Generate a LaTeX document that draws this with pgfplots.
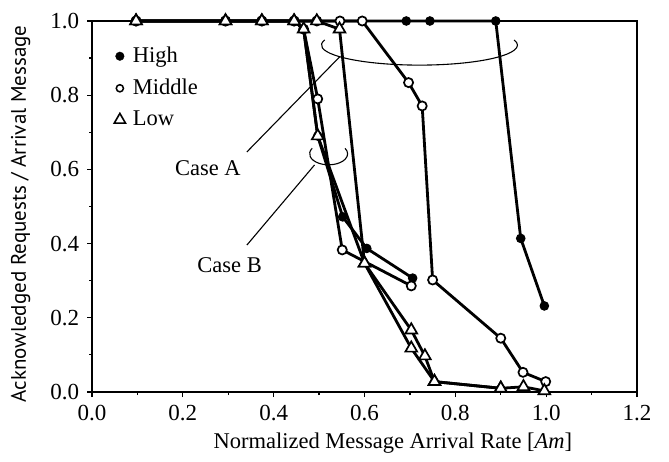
\documentclass[border=0pt]{standalone}
\usepackage{fontspec}
\setmainfont{Liberation Serif}
\newfontfamily\ylabfont{PT Sans}
\usepackage{pgfplots}
\pgfplotsset{compat=1.18}

% one style per class; Case A and Case B share them
\pgfplotsset{
 hi/.style={black,line width=2.8bp,mark=*,mark size=4.3pt,mark options={fill=black,line width=1bp}},
 mid/.style={black,line width=2.8bp,mark=*,mark size=4.6pt,mark options={fill=white,line width=1.7bp}},
 lo/.style={black,line width=2.8bp,mark=triangle*,mark size=6.8pt,mark options={fill=white,line width=1.7bp}},
 keyimg/.style={legend image code/.code={\path (0cm,0cm) (0.5cm,0cm); \draw[#1] plot coordinates {(0.12cm,0cm)};}},
}

\begin{document}
\fontsize{23bp}{27bp}\selectfont
\begin{tikzpicture}
\path[use as bounding box] (0,0) rectangle (669bp,462bp);
\begin{axis}[at={(92bp,70bp)},anchor=south west,scale only axis,
 width=545bp,height=371bp,
 xmin=0,xmax=1.2,ymin=0,ymax=1,clip=false,
 xtick={0,0.2,0.4,0.6,0.8,1.0,1.2},ytick={0,0.2,0.4,0.6,0.8,1.0},
 minor tick num=1,xtick pos=left,ytick pos=left,
 tick align=outside,major tick length=5bp,minor tick length=3bp,
 tick style={black,line width=1.2bp},axis line style={line width=1.6bp},
 /pgf/number format/assume math mode=true,
 xticklabel style={/pgf/number format/fixed,/pgf/number format/fixed zerofill,/pgf/number format/precision=1},
 yticklabel style={/pgf/number format/fixed,/pgf/number format/fixed zerofill,/pgf/number format/precision=1},
 xlabel={Normalized Message Arrival Rate [\textit{Am}]},
 ylabel={Acknowledged Requests / Arrival Message},
 xlabel style={at={(axis description cs:0.552,-0.138)},anchor=center,font=\fontsize{22.5bp}{26bp}\selectfont},
 ylabel style={at={(axis description cs:-0.131,0.48)},anchor=center,font=\ylabfont\fontsize{21bp}{25bp}\selectfont},
 legend style={at={(axis description cs:0.035,0.942)},anchor=north west,draw=none,fill=none,
  row sep=9bp,font=\fontsize{22.5bp}{26bp}\selectfont},
 legend cell align=left]

\addlegendimage{keyimg,only marks,mark=*,mark size=4.3pt,mark options={fill=black}}
\addlegendentry{High}
\addlegendimage{keyimg,only marks,mark=*,mark size=3.6pt,mark options={fill=white,line width=1.5bp}}
\addlegendentry{Middle}
\addlegendimage{keyimg,only marks,mark=triangle*,mark size=6.5pt,mark options={fill=white,line width=1.6bp}}
\addlegendentry{Low}

% Case A
\addplot[hi,forget plot] coordinates {(0.097,1) (0.294,1) (0.374,1) (0.445,1) (0.495,1) (0.546,1) (0.595,1) (0.692,1) (0.744,1) (0.889,1) (0.944,0.414) (0.996,0.232)};
\addplot[mid,forget plot] coordinates {(0.097,1) (0.294,1) (0.374,1) (0.445,1) (0.495,1) (0.546,1) (0.595,1) (0.697,0.834) (0.727,0.771) (0.750,0.302) (0.900,0.145) (0.949,0.053) (0.999,0.028)};
\addplot[lo,forget plot] coordinates {(0.097,1) (0.294,1) (0.374,1) (0.445,1) (0.495,1) (0.545,0.978) (0.600,0.347) (0.703,0.167) (0.733,0.097) (0.754,0.028) (0.900,0.010) (0.950,0.014) (0.996,0.003)};
% Case B
\addplot[hi,forget plot] coordinates {(0.097,1) (0.294,1) (0.374,1) (0.445,1) (0.466,0.978) (0.497,0.690) (0.552,0.472) (0.605,0.387) (0.706,0.307)};
\addplot[mid,forget plot] coordinates {(0.097,1) (0.294,1) (0.374,1) (0.445,1) (0.466,0.978) (0.497,0.790) (0.551,0.383) (0.703,0.286)};
\addplot[lo,forget plot] coordinates {(0.097,1) (0.294,1) (0.374,1) (0.445,1) (0.466,0.978) (0.497,0.690) (0.600,0.347) (0.703,0.118) (0.754,0.028) (0.900,0.010)};

% annotations
\draw[line width=1.1bp] (axis cs:0.341,0.647) -- (axis cs:0.545,0.903);
\draw[line width=1.1bp] (axis cs:0.721,0.935) ++(165:98bp and 20bp) arc[start angle=165,end angle=375,x radius=98bp,y radius=20bp];
\node[font=\fontsize{22.5bp}{26bp}\selectfont] at (axis cs:0.255,0.604) {Case A};
\draw[line width=1.1bp] (axis cs:0.341,0.396) -- (axis cs:0.49,0.612);
\draw[line width=1.1bp] (axis cs:0.521,0.642) ++(150:19bp and 11bp) arc[start angle=150,end angle=390,x radius=19bp,y radius=11bp];
\node[font=\fontsize{22.5bp}{26bp}\selectfont] at (axis cs:0.303,0.342) {Case B};
\end{axis}
\end{tikzpicture}
\end{document}
